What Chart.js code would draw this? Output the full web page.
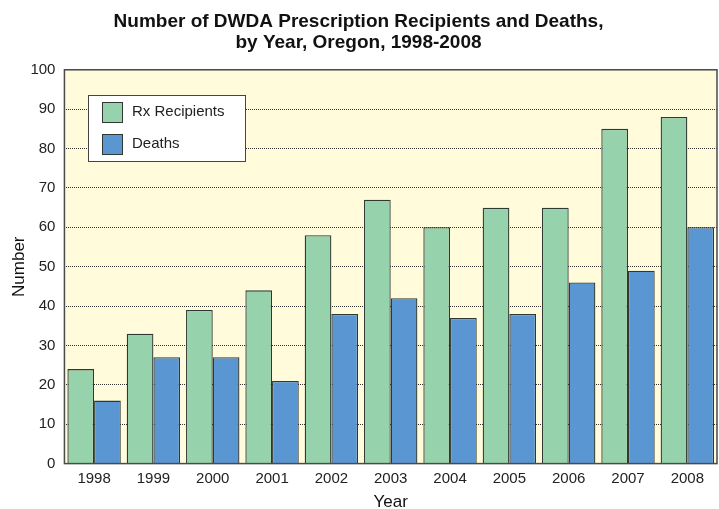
<!DOCTYPE html>
<html><head><meta charset="utf-8">
<script src="https://cdn.jsdelivr.net/npm/chart.js@4"></script>
<style>html,body{margin:0;padding:0;background:#fff}#wrap{width:719px;height:509px}</style>
</head><body><div id="wrap"><canvas id="c" width="719" height="509"></canvas></div>
<script>
const years = ['1998','1999','2000','2001','2002','2003','2004','2005','2006','2007','2008'];
const rxRecipients = [24,33,39,44,58,67,60,65,65,85,88];
const deaths = [16,27,27,21,38,42,37,38,46,49,60];
const seriesNames = ['Rx Recipients','Deaths'];
const titleLines = ['Number of DWDA Prescription Recipients and Deaths,','by Year, Oregon, 1998-2008'];

const GREEN='#96d3ac', BLUE='#5a96d2', EDGE='#303833';
const FONT='"Liberation Sans", Arial, sans-serif';

const bgPlugin = {
  id:'bg',
  beforeDraw(chart){
    const {ctx, chartArea:a} = chart;
    ctx.save(); ctx.fillStyle='#fffbdb'; ctx.fillRect(a.left,a.top,a.right-a.left,a.bottom-a.top); ctx.restore();
  },
  afterDraw(chart){
    const {ctx, chartArea:a} = chart;
    ctx.save();
    ctx.strokeStyle='#4a4a4a'; ctx.lineWidth=1.5;
    ctx.strokeRect(a.left,a.top,a.right-a.left,a.bottom-a.top);
    // legend box
    const lx=88, ly=95, lw=157, lh=66;
    ctx.fillStyle='#fff'; ctx.fillRect(lx,ly,lw,lh);
    ctx.strokeStyle='#444'; ctx.lineWidth=1; ctx.strokeRect(lx+0.5,ly+0.5,lw,lh);
    chart.data.datasets.forEach((ds,i)=>{
      const sy = ly+7+i*32;
      ctx.fillStyle=ds.backgroundColor; ctx.fillRect(102,sy,20,20);
      ctx.strokeStyle=EDGE; ctx.lineWidth=1; ctx.strokeRect(102.5,sy+0.5,20,20);
      ctx.fillStyle='#222'; ctx.font='15px '+FONT;
      ctx.textBaseline='middle'; ctx.textAlign='left';
      ctx.fillText(ds.label,132,sy+10);
    });
    ctx.restore();
  }
};

new Chart(document.getElementById('c'),{
  type:'bar',
  data:{labels:years,datasets:[
    {label:seriesNames[0],data:rxRecipients,backgroundColor:GREEN,borderColor:EDGE,borderWidth:1.3},
    {label:seriesNames[1],data:deaths,backgroundColor:BLUE,borderColor:EDGE,borderWidth:1.3}
  ]},
  options:{
    responsive:false,animation:false,
    layout:{padding:{left:0,right:2,top:0,bottom:0}},
    datasets:{bar:{categoryPercentage:0.9,barPercentage:1.0}},
    plugins:{
      legend:{display:false},tooltip:{enabled:false},
      title:{display:true,text:titleLines,color:'#111',font:{family:FONT,size:19,weight:'bold',lineHeight:1.1},padding:{top:11,bottom:17}}
    },
    scales:{
      x:{
        grid:{display:false,drawTicks:false,tickLength:0},
        border:{display:false},
        ticks:{color:'#222',font:{family:FONT,size:15},padding:6},
        title:{display:true,text:'Year',color:'#111',font:{family:FONT,size:17},padding:{top:-1,bottom:-4}}
      },
      y:{
        min:0,max:100,
        ticks:{stepSize:10,color:'#222',font:{family:FONT,size:15},padding:9},
        grid:{color:'#333',lineWidth:1,drawTicks:false,tickLength:0,drawOnChartArea:true},
        border:{display:false,dash:[1,1]},
        title:{display:true,text:'Number',color:'#111',font:{family:FONT,size:17},padding:{top:9,bottom:-8}}
      }
    }
  },
  plugins:[bgPlugin]
});
</script></body></html>
